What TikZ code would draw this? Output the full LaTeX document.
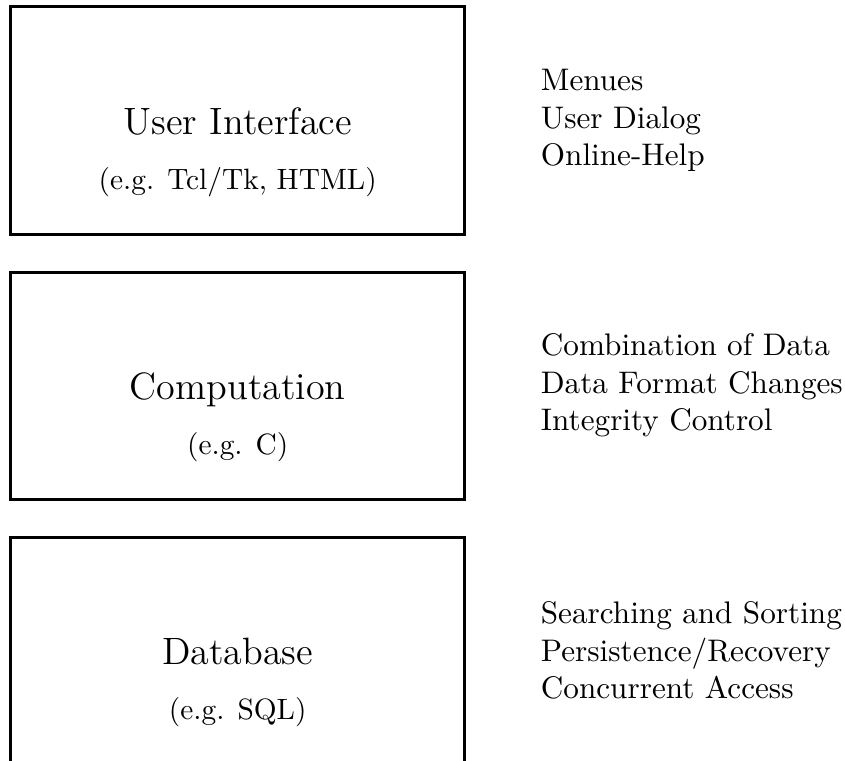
\documentclass[tikz,border=0pt]{standalone}
\usetikzlibrary{positioning}
\begin{document}
\begin{tikzpicture}[
   layer/.style={draw,line width=1pt,minimum width=151.5pt,minimum height=75.67pt,inner sep=0pt},
   layertitle/.style={font=\fontsize{12.7}{15.2}\selectfont,inner sep=0pt,anchor=base},
   tool/.style={font=\fontsize{9.8}{12}\selectfont,inner sep=0pt,anchor=base},
   duties/.style={align=left,inner sep=0pt,font=\fontsize{10.4}{12.5}\selectfont,
                  right=24.6pt of #1}]
\useasboundingbox (0,0) rectangle (281.67pt,-253.67pt);
\node[layer] (UI) at (79.25pt,-40.17pt) {};
\node[layer,below=11.67pt of UI] (Comp) {};
\node[layer,below=11.67pt of Comp] (DB) {};
\node[layertitle] (UItitle) at ([yshift=-4.7pt]UI.center) {User Interface};
\node[tool] (UItool) at ([yshift=-18.3pt]UItitle.base) {(e.g. Tcl/Tk, HTML)};
\node[layertitle] (Comptitle) at ([yshift=-4.7pt]Comp.center) {Computation};
\node[tool] (Comptool) at ([yshift=-18.3pt]Comptitle.base) {(e.g. C)};
\node[layertitle] (DBtitle) at ([yshift=-4.7pt]DB.center) {Database};
\node[tool] (DBtool) at ([yshift=-18.3pt]DBtitle.base) {(e.g. SQL)};
\node[duties=UI] (UIduties) {Menues\\User Dialog\\Online-Help};
\node[duties=Comp] (Compduties) {Combination of Data\\Data Format Changes\\Integrity Control};
\node[duties=DB] (DBduties) {Searching and Sorting\\Persistence/Recovery\\Concurrent Access};
\end{tikzpicture}
\end{document}
